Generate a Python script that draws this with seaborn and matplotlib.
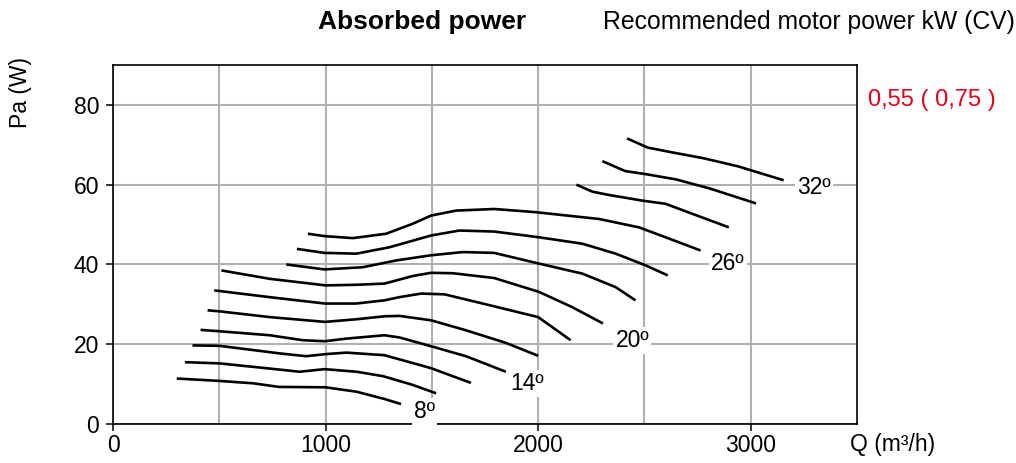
import numpy as np
import pandas as pd
import matplotlib
matplotlib.use("Agg")
import matplotlib.pyplot as plt
import seaborn as sns

# ---------------- data ----------------
temps = [8, 10, 12, 14, 16, 18, 20, 22, 24, 26, 28, 30, 32]

q_08 = [300, 500, 660, 780, 1000, 1145, 1275, 1355]
pa_08 = [11.4, 10.8, 10.2, 9.3, 9.2, 8.1, 6.3, 5.0]

q_10 = [338, 500, 737, 878, 995, 1146, 1270, 1410, 1520]
pa_10 = [15.5, 15.2, 13.9, 13.1, 13.75, 13.1, 12.0, 9.8, 7.7]

q_12 = [374, 500, 784, 909, 997, 1097, 1277, 1496, 1684]
pa_12 = [19.7, 19.6, 17.7, 17.0, 17.5, 17.9, 17.25, 14.0, 10.3]

q_14 = [412, 500, 737, 893, 997, 1097, 1277, 1347, 1496, 1660, 1848]
pa_14 = [23.6, 23.25, 22.25, 21.0, 20.75, 21.4, 22.25, 21.7, 19.5, 17.0, 13.1]

q_16 = [445, 500, 737, 997, 1144, 1277, 1347, 1496, 1660, 1850, 2000]
pa_16 = [28.5, 28.25, 26.8, 25.6, 26.25, 27.0, 27.1, 26.0, 23.5, 20.3, 17.1]

q_18 = [476, 737, 997, 1144, 1277, 1347, 1450, 1560, 1770, 2000, 2153]
pa_18 = [33.5, 31.8, 30.2, 30.2, 31.0, 31.8, 32.7, 32.5, 29.8, 26.8, 21.0]

q_20 = [510, 737, 1000, 1144, 1277, 1410, 1496, 1598, 1793, 2005, 2160, 2305]
pa_20 = [38.5, 36.4, 34.75, 34.9, 35.2, 37.1, 37.9, 37.8, 36.6, 33.1, 29.3, 25.2]

q_22 = [815, 995, 1175, 1332, 1496, 1645, 1793, 2005, 2208, 2365, 2458]
pa_22 = [40.0, 38.75, 39.3, 41.0, 42.3, 43.1, 42.9, 40.2, 37.7, 34.3, 31.0]

q_24 = [865, 995, 1144, 1300, 1496, 1629, 1793, 2005, 2208, 2365, 2506, 2610]
pa_24 = [43.9, 42.9, 42.7, 44.3, 47.25, 48.5, 48.25, 46.8, 45.2, 42.7, 39.75, 37.25]

q_26 = [917, 995, 1128, 1285, 1410, 1496, 1614, 1793, 1989, 2286, 2474, 2600, 2764]
pa_26 = [47.7, 47.1, 46.6, 47.7, 50.2, 52.25, 53.5, 53.9, 53.1, 51.4, 49.3, 46.8, 43.5]

q_28 = [2180, 2255, 2335, 2490, 2600, 2725, 2897]
pa_28 = [60.0, 58.25, 57.4, 56.0, 55.2, 52.7, 49.3]

q_30 = [2302, 2410, 2500, 2650, 2810, 3025]
pa_30 = [65.9, 63.4, 62.7, 61.3, 59.0, 55.3]

q_32 = [2418, 2515, 2620, 2780, 2940, 3155]
pa_32 = [71.6, 69.3, 68.2, 66.6, 64.6, 61.1]

label_text = ["8º", "14º", "20º", "26º", "32º"]
label_q = [1465, 1950, 2443, 2892, 3296]
label_pa = [3.1, 10.2, 21.0, 40.3, 59.3]

x_ticks = [0, 1000, 2000, 3000]
x_grid = [500, 1500, 2500]
y_ticks = [0, 20, 40, 60, 80]

title_main = "Absorbed power"
title_right = "Recommended motor power kW (CV)"
motor_text = "0,55 ( 0,75 )"
x_label = "Q (m³/h)"
y_label = "Pa (W)"

# ---------------- build long table ----------------
series = [q_08, q_10, q_12, q_14, q_16, q_18, q_20, q_22, q_24, q_26, q_28, q_30, q_32]
pas = [pa_08, pa_10, pa_12, pa_14, pa_16, pa_18, pa_20, pa_22, pa_24, pa_26, pa_28, pa_30, pa_32]
rows = []
for t, qs, ps in zip(temps, series, pas):
    for i, (q, p) in enumerate(zip(qs, ps)):
        rows.append({"temp": t, "order": i, "q": q, "pa": p})
df = pd.DataFrame(rows)

# ---------------- plot ----------------
sns.set_theme(style="white")
plt.rcParams["font.family"] = ["Liberation Sans", "DejaVu Sans"]

W, H = 1016, 463
fig = plt.figure(figsize=(W / 100, H / 100), dpi=100)
ax = fig.add_axes([113 / W, 1 - 424 / H, (857 - 113) / W, (424 - 65) / H])

sns.lineplot(data=df, x="q", y="pa", units="temp", estimator=None, sort=False,
             color="black", linewidth=1.9, ax=ax, legend=False, zorder=2)
for line in ax.lines:
    line.set_solid_capstyle("butt")
    line.set_solid_joinstyle("round")

ax.set_xlim(0, 3500)
ax.set_ylim(0, 90)
ax.set_xticks(x_ticks)
ax.set_xticks(x_grid, minor=True)
ax.set_yticks(y_ticks)
ax.set_axisbelow(True)
ax.grid(True, which="both", color="#b0b0b0", linewidth=1.5)
ax.tick_params(which="minor", length=0)
ax.tick_params(axis="x", which="major", direction="out", length=5, width=1.1,
               color="black", labelcolor="black", labelsize=16.5, pad=2, bottom=True)
ax.tick_params(axis="y", which="major", direction="out", length=5, width=1.1,
               color="black", labelcolor="black", labelsize=16.5, pad=5, left=True)
ax.set_xlabel("")
ax.set_ylabel("")
for s in ax.spines.values():
    s.set_color("black")
    s.set_linewidth(1.2)
    s.set_visible(True)

for txt, q, p in zip(label_text, label_q, label_pa):
    ax.text(q, p, txt, ha="center", va="center", fontsize=16.5, color="black",
            zorder=3, bbox=dict(facecolor="white", edgecolor="none", pad=1.5))

fig.text(422 / W, 1 - 22 / H, title_main, ha="center", va="center",
         fontsize=19, fontweight="bold", color="black")
fig.text(603 / W, 1 - 22 / H, title_right, ha="left", va="center",
         fontsize=17.8, color="black")
fig.text(868 / W, 1 - 100 / H, motor_text, ha="left", va="center",
         fontsize=17, color="#e2001a")
fig.text(850 / W, 1 - 445 / H, x_label, ha="left", va="center",
         fontsize=16.5, color="black")
fig.text(21 / W, 1 - 92 / H, y_label, ha="center", va="center", rotation=90,
         fontsize=16.5, color="black")

fig.savefig("out.png", dpi=100)
